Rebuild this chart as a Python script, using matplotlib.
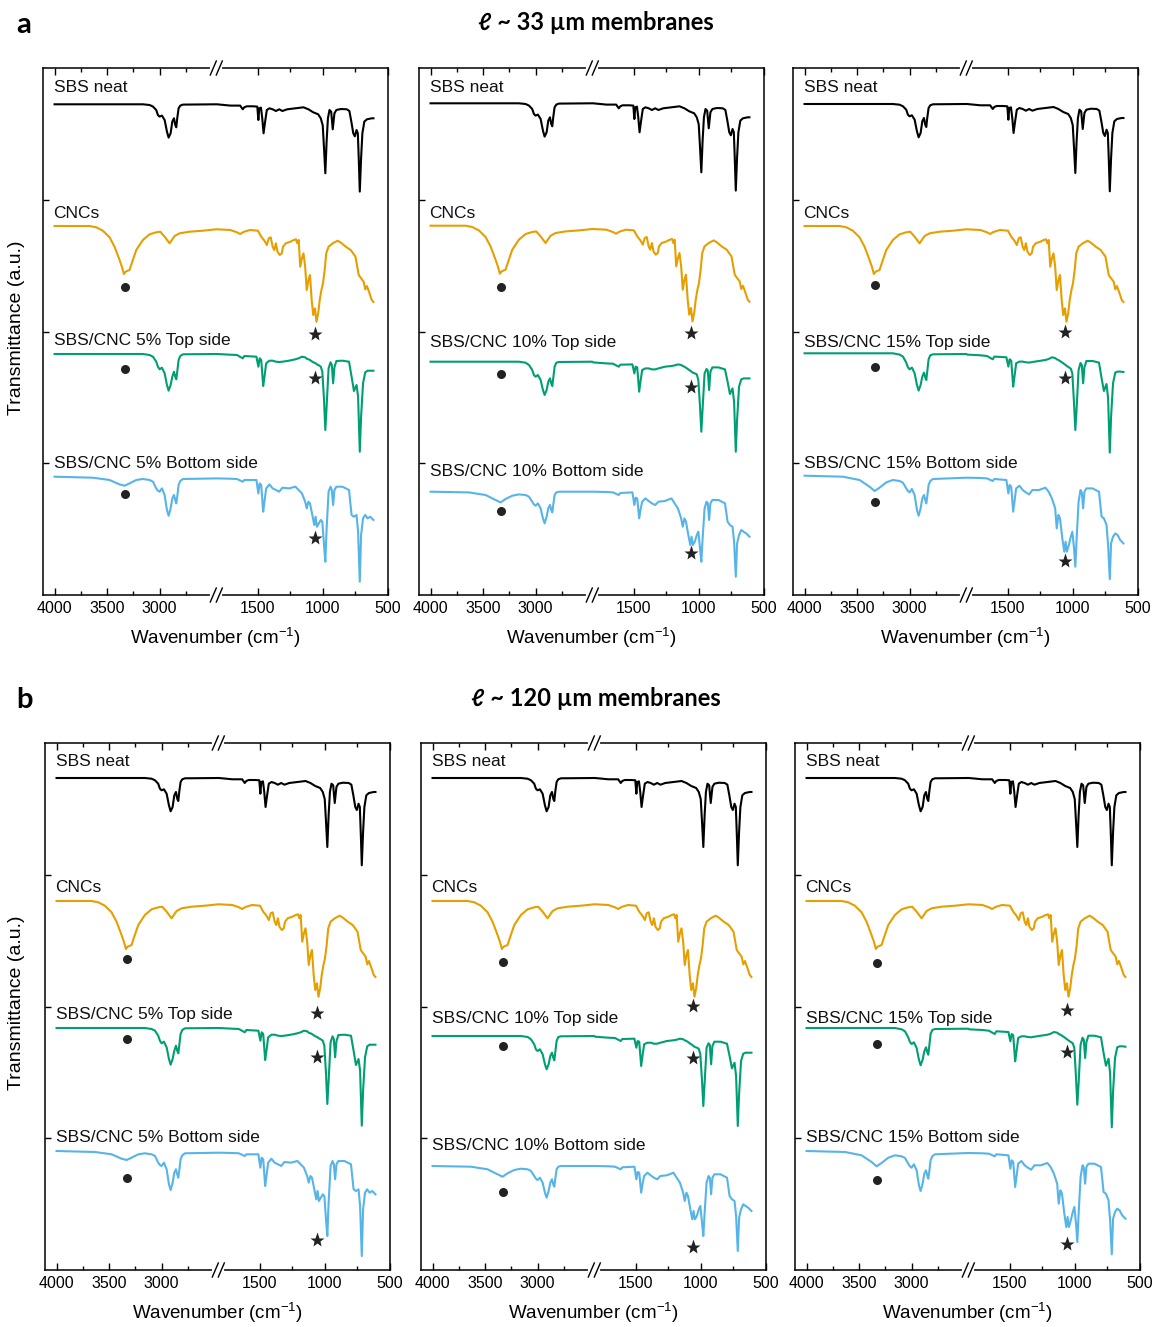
"""
FTIR spectra of SBS / CNC membranes, plotted on a broken wavenumber axis.
"""
import numpy as np
import matplotlib
matplotlib.use("Agg")
from matplotlib import pyplot as plt

plt.rcParams['font.family'] = ['Liberation Sans', 'DejaVu Sans']
plt.rcParams['mathtext.fontset'] = 'custom'
plt.rcParams['mathtext.rm'] = 'Liberation Sans'

# ---------------------------------------------------------------- data
# spectra as depth below their own baseline (a.u.), 0 = baseline
SBS_WN = [4000, 3476, 3159, 3095, 3063, 3032, 3016, 3000, 2978, 2952, 2930,
          2914, 2895, 2879, 2863, 2851, 2841, 2832, 2819, 2803, 2778, 2460,
          1815, 1712, 1637, 1617, 1605, 1587, 1537, 1505, 1497, 1490, 1477,
          1467, 1457, 1445, 1432, 1412, 1387, 1362, 1337, 1312, 1275, 1212,
          1150, 1112, 1075, 1037, 1017, 1002, 992, 982, 972, 962, 950, 937,
          925, 912, 897, 862, 817, 797, 782, 767, 755, 742, 732, 725, 717,
          707, 697, 682, 662, 625, 612]
SBS_T = [0, 0, 0, -0.7, -2.3, -5.7, -10.7, -12.3, -11.3, -15.7, -27.3,
         -33.3, -29, -17.3, -14, -20.7, -23, -14, -4, -1.3, -0.3, 0,
         0, -1.3, -1.3, -5, -3, -2, -2, -2.3, -15.7, -4, -3.3,
         -14, -29, -17.3, -5.7, -4, -5, -6.7, -5, -6.7, -5, -4,
         -3, -5, -8, -10, -14, -21, -44, -69, -37, -14, -5.7, -7.3,
         -25, -9, -5.7, -4.7, -5, -6.7, -17.3, -29, -32, -25.7, -29, -54, -87.3,
         -54, -29, -17.3, -15, -14, -14]

CNC_WN = [4000, 3667, 3603, 3540, 3476, 3429, 3387, 3359, 3340, 3324, 3286,
          3260, 3222, 3159, 3095, 3032, 2994, 2952, 2905, 2857, 2809, 2714,
          2587, 2460,
          1815, 1712, 1662, 1637, 1612, 1562, 1500, 1475, 1450, 1432, 1417,
          1402, 1387, 1375, 1362, 1350, 1332, 1317, 1307, 1287, 1250, 1225,
          1207, 1197, 1187, 1175, 1162, 1150, 1137, 1125, 1112, 1100, 1087,
          1075, 1062, 1050, 1037, 1025, 1012, 1000, 987, 975, 957, 925, 887,
          862, 825, 787, 750, 725, 707, 687, 675, 662, 642, 625, 612]
CNC_T = [0, 0, -1.3, -4.7, -11.3, -20.7, -32.3, -40.7, -48, -45.7, -44,
         -35.7, -24, -14, -8.3, -6.3, -5.7, -10.7, -17.3, -10, -7.3, -5.7,
         -4.7, -3.3,
         -3.3, -4, -6.3, -8, -6, -4, -4.7, -10.7, -14.7, -19, -12.3,
         -11.3, -20.7, -24, -17.3, -25.7, -29, -27.3, -20.7, -17.3, -15.7, -14,
         -13.3, -17.3, -14, -40.7, -32.3, -27.3, -40.7, -64, -54, -49, -74,
         -89, -82.3, -95.7, -87.3, -74, -64, -57.3, -44, -27.3, -20.7, -17.3, -14.7,
         -16.7, -20.7, -24, -30.7, -49, -52.3, -55.7, -63.3, -60, -67.3, -74, -76]

COMP_WN = [4000, 3635, 3476, 3381, 3333, 3286, 3222, 3159, 3095, 3063, 3032,
           3016, 3000, 2978, 2952, 2930, 2914, 2895, 2879, 2863, 2851, 2841,
           2832, 2819, 2803, 2778, 2460,
           1815, 1712, 1662, 1617, 1605, 1512, 1497, 1487, 1475, 1460, 1450,
           1437, 1412, 1387, 1362, 1337, 1312, 1262, 1212, 1187, 1162, 1137,
           1125, 1112, 1100, 1082, 1067, 1057, 1047, 1032, 1017, 1005, 992,
           982, 972, 957, 942, 932, 922, 912, 897, 850, 800, 780, 762, 742,
           730, 717, 707, 692, 675, 657, 637, 612]

TOP_5 = [0, 0, 0, 0, 0, 0, 0, 0, -1, -2.7, -7.7,
         -12.7, -15.3, -13.7, -19.3, -31, -36.7, -31, -22.7, -17.7, -22.7, -25.3,
         -17.7, -6, -2, -0.3, 0,
         0, -0.7, -1, -4.3, -2, -2.7, -12.7, -4.3, -6, -32, -22.7,
         -9.3, -6.7, -6.7, -7.7, -8, -7.7, -6.7, -5.3, -4.3, -2.7, -3.3,
         -4.7, -5.3, -6, -7.7, -8.7, -9.3, -10.3, -11.3, -12.7, -17.7, -46,
         -76, -52.7, -14.3, -8.3, -11, -29.3, -13.3, -7, -6.7, -7.7, -22.7, -37, -31,
         -42.7, -97.7, -62.7, -29.3, -18.3, -16.7, -16.7, -16.7]
BOT_5 = [0, -1, -3.3, -7.7, -9, -6.7, -3.3, -2.3, -3.3, -5, -11.7,
         -14, -15, -11.7, -18.3, -33.3, -39, -31.7, -21.7, -18.3, -23.3, -26.7,
         -20, -8.3, -4.3, -2.3, -1.7,
         -1.7, -2, -2.3, -5, -3.3, -3.3, -16.7, -6.7, -8.3, -35, -25,
         -11.7, -7.7, -11.7, -13.3, -15, -11, -11.7, -10, -13.3, -16.7, -25,
         -31.7, -25, -26.7, -38.3, -48.3, -40, -50, -46.7, -43.3, -45, -68.3,
         -85, -51.7, -15, -10, -13.3, -28.3, -13.3, -10, -10, -13.3, -38.3, -40, -38.3,
         -55, -105, -58.3, -41.7, -38.3, -41.7, -40, -43.3]
TOP_10 = [0, 0, 0, 0, 0, 0, 0, 0, -1, -3.3, -8.3,
          -13.3, -15, -13.3, -18.3, -28.3, -33.3, -28.3, -20, -16.7, -21.7, -24.3,
          -16.7, -5, -1, -0.3, 0,
          -0.7, -1.7, -2, -5, -3, -2.7, -11.7, -5, -5.7, -30, -20,
          -8.3, -6.7, -6.7, -7.7, -7.7, -6.7, -5, -4.3, -3.7, -2.7, -3.3,
          -4.3, -5, -6, -7.7, -9, -10, -11, -11.7, -12.7, -18.3, -45,
          -70, -46.7, -11.7, -7.3, -9, -28.3, -10, -5.7, -5.7, -7.7, -20, -32.3, -26.7,
          -40, -90, -58.3, -25, -17.7, -16.7, -16.7, -16.7]
BOT_10 = [0, -0.7, -3.3, -8.3, -10.7, -7.3, -4, -2.7, -3.3, -5, -10,
          -12.7, -14, -11.7, -16.7, -26.7, -31.7, -25, -16.7, -13.3, -18.3, -20.7,
          -13.3, -3.3, -0.7, 0, 0,
          0, -0.3, -0.7, -3.3, -1.3, -0.7, -13.3, -6, -6.7, -26.7, -18.3,
          -10, -6.7, -9.3, -11.7, -13.3, -10, -9.3, -6.7, -11.7, -16.7, -26.7,
          -35, -26.7, -30, -43.3, -53.3, -45, -53.3, -50, -43.3, -40, -56.7,
          -70, -46.7, -16.7, -10, -11.7, -28.3, -11.7, -8.3, -8.3, -11.7, -30, -33.3, -35,
          -50, -85, -51.7, -43.3, -38.3, -40, -41.7, -45]
TOP_15 = [0, 0, 0, 0, 0, 0, 0, 0, -1.3, -3.3, -9.3,
          -14, -16, -14.3, -20, -31.7, -37.3, -31.7, -23.3, -19.3, -24, -26.7,
          -18.3, -6, -2, -1, -0.7,
          -1.3, -2, -2.7, -6, -3.3, -4, -13.3, -6, -7.3, -33.3, -23.3,
          -10, -8.3, -8.3, -9, -9.3, -8.7, -7.7, -6.7, -5.7, -4, -4.7,
          -6, -6.7, -7.7, -9.3, -10.7, -11.7, -12.7, -14, -15.3, -20, -50,
          -76.7, -55, -16.7, -9.7, -11.7, -30, -14, -7.7, -7.7, -9.3, -25, -37.7, -30.7,
          -45, -99.3, -63.3, -30, -19.3, -18.3, -18.3, -18.7]
BOT_15 = [0, -1, -4.3, -11, -15.3, -12, -6.7, -4.3, -5.3, -7, -12.7,
          -15.3, -16.7, -13.3, -19.3, -34.3, -40, -32.7, -22.7, -19.3, -24.3, -27.7,
          -21, -9.3, -5.3, -3.3, -2,
          -2, -2.3, -2.7, -5.3, -3.3, -4.3, -17.7, -9.3, -11, -36, -26,
          -12.7, -10, -14.3, -16.7, -18.7, -14.3, -14.3, -12, -16, -22.7, -32.7,
          -52.7, -39.3, -42.7, -62.7, -76, -66, -76, -69.3, -61, -56, -72.7,
          -91, -62.7, -26, -14.3, -16.7, -32.7, -16, -12.7, -12.7, -16, -41, -42.7, -49.3,
          -69.3, -103.3, -67.7, -61, -57.7, -59.3, -64.3, -67.7]

CONCENTRATIONS = ["5%", "10%", "15%"]
TOP_SPECTRA = [TOP_5, TOP_10, TOP_15]
BOTTOM_SPECTRA = [BOT_5, BOT_10, BOT_15]
ROW_TITLES = ["\u2113 ~ 33 \u00b5m membranes", "\u2113 ~ 120 \u00b5m membranes"]
ROW_LETTERS = ["a", "b"]

# baselines of the four traces (SBS, CNC, top, bottom) per panel, from the top
BASELINES = [[[36.3, 158, 286, 408.7], [35.3, 157.7, 293.7, 423.7], [36, 158, 285.3, 407.7]],
             [[35, 158, 285, 408], [35, 158, 293, 423], [35, 158, 285, 408]]]
LABEL_Y = [[[20, 146, 273, 395], [20, 146, 275, 403], [20, 146, 275, 395]],
           [[19, 145, 271, 394], [19, 145, 275, 402], [19, 145, 275, 394]]]
# marker heights: CNC circle, CNC star, top circle, top star, bottom circle, bottom star
MARKER_Y = [[[219, 266, 301, 310, 426, 470], [219, 265, 306, 319, 443, 485],
             [217, 264, 299, 310, 434, 493]],
            [[216, 270, 296, 314, 435, 497], [219, 263, 303, 315, 449, 504],
             [220, 267, 301, 309, 437, 501]]]
CIRCLE_WN = 3330
STAR_WN = 1060

COLORS = ["#000000", "#E69F00", "#009E73", "#56B4E9"]

# ---------------------------------------------------------------- broken axis
BREAK_HI = 2460
BREAK_LO = 1820
K_RIGHT = 1.238
_XP = [-20000, BREAK_LO, BREAK_HI, 20000]
_FP = [BREAK_HI - 0.5 - (BREAK_LO + 20000) * K_RIGHT, BREAK_HI - 0.5, BREAK_HI, 20000]


def _fwd(w):
    return np.interp(np.asarray(w, dtype=float), _XP, _FP)


def _inv(v):
    return np.interp(np.asarray(v, dtype=float), _FP, _XP)


def _add_break_marks(ax):
    span = _fwd(4110) - _fwd(500)
    xf = (_fwd(4110) - _fwd(BREAK_HI)) / span
    px, py = 1 / 345, 1 / 527
    for yf in (0, 1):
        ax.plot([xf - 4 * px, xf + 4 * px], [yf, yf], color="white", lw=3,
                transform=ax.transAxes, clip_on=False, zorder=5)
        for off in (-3, 3):
            ax.plot([xf + (off - 3) * px, xf + (off + 3) * px],
                    [yf - 7 * py, yf + 7 * py], color="black", lw=1,
                    transform=ax.transAxes, clip_on=False, zorder=6)


fig = plt.figure(figsize=(11.58, 13.27), dpi=100)

PANEL_X = [[43, 419, 793], [45, 421, 795]]
ROW_TOP = [68, 743]
AX_W, AX_H = 345, 527

for r in range(2):
    for c in range(3):
        x0 = PANEL_X[r][c] / 1158
        y0 = 1 - (ROW_TOP[r] + AX_H) / 1327
        ax = fig.add_axes([x0, y0, AX_W / 1158, AX_H / 1327])
        ax.set_xscale("function", functions=(_fwd, _inv))
        ax.set_xlim(4110, 500)
        ax.set_ylim(-AX_H, 0)

        base = BASELINES[r][c]
        spectra = [(SBS_WN, SBS_T), (CNC_WN, CNC_T),
                   (COMP_WN, TOP_SPECTRA[c]), (COMP_WN, BOTTOM_SPECTRA[c])]
        names = ["SBS neat", "CNCs",
                 "SBS/CNC %s Top side" % CONCENTRATIONS[c],
                 "SBS/CNC %s Bottom side" % CONCENTRATIONS[c]]
        for i, (wn, t) in enumerate(spectra):
            ax.plot(wn, np.array(t) - base[i], color=COLORS[i], lw=1.5,
                    solid_joinstyle="round")
            ax.text(4010, -LABEL_Y[r][c][i], names[i], fontsize=12.5,
                    ha="left", va="center", color="#111111")

        my = MARKER_Y[r][c]
        ax.plot([CIRCLE_WN] * 3, [-my[0], -my[2], -my[4]], "o", color="#222222",
                ms=6.5, mec="none")
        ax.plot([STAR_WN] * 3, [-my[1], -my[3], -my[5]], "*", color="#222222",
                ms=11, mec="none")

        ax.set_xticks([4000, 3500, 3000, 1500, 1000, 500])
        ax.set_xticklabels(["4000", "3500", "3000", "1500", "1000", "500"])
        ax.set_xticks([3750, 3250, 2750, 1250, 750], minor=True)
        ax.set_yticks(np.linspace(-AX_H, 0, 5)[1:-1])
        ax.set_yticklabels([])
        ax.tick_params(axis="x", which="both", direction="in", top=True,
                       labelsize=11.5, pad=4, width=1)
        ax.tick_params(axis="x", which="major", length=5)
        ax.tick_params(axis="x", which="minor", length=3)
        ax.tick_params(axis="y", which="major", direction="in", length=4, width=1)
        for sp in ax.spines.values():
            sp.set_linewidth(1.1)
        ax.set_xlabel("Wavenumber (cm$^{-1}$)", fontsize=13.5, labelpad=7)
        _add_break_marks(ax)

    fig.text(24 / 1158, 1 - (ROW_TOP[r] - 43) / 1327, ROW_LETTERS[r],
             fontsize=21, fontweight="bold", family=["Lato", "DejaVu Sans"],
             ha="center", va="center")
    fig.text(596 / 1158, 1 - (ROW_TOP[r] - 45) / 1327, ROW_TITLES[r],
             fontsize=17, fontweight="bold", family=["Lato", "DejaVu Sans"],
             ha="center", va="center")
    fig.text(17 / 1158, 1 - (ROW_TOP[r] + 260) / 1327, "Transmittance (a.u.)",
             fontsize=14, rotation=90, ha="center", va="center")

fig.savefig("out.png", dpi=100)
